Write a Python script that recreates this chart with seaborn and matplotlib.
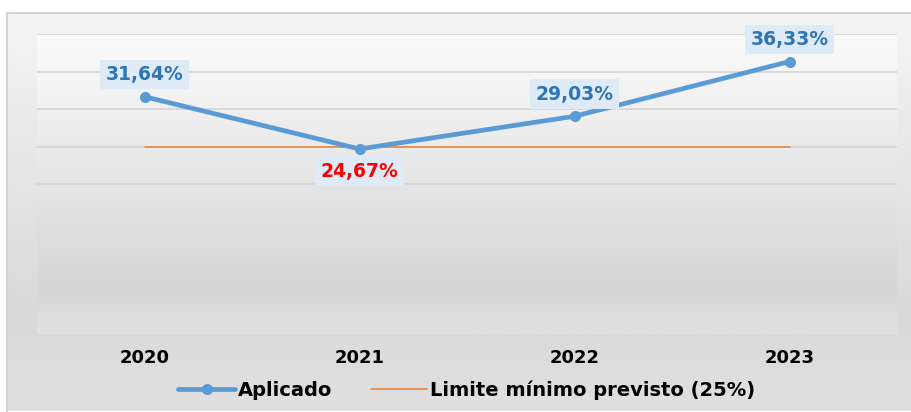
import numpy as np
import pandas as pd
import seaborn as sns
import matplotlib.pyplot as plt
from matplotlib.colors import LinearSegmentedColormap

anos = ["2020", "2021", "2022", "2023"]
aplicado = [31.64, 24.67, 29.03, 36.33]
limite = [25, 25, 25, 25]
rotulos = ["31,64%", "24,67%", "29,03%", "36,33%"]
cor_rotulo = ["#2e75b6", "#ff0000", "#2e75b6", "#2e75b6"]
grade = [20, 25, 30, 35, 40]

df = pd.DataFrame({"ano": anos, "Aplicado": aplicado, "Limite": limite})

sns.set_theme(style="white")
plt.rcParams["font.family"] = ["DejaVu Sans"]

W, H = 911, 412
fig = plt.figure(figsize=(W / 100, H / 100), dpi=100)
fig.patch.set_facecolor("white")

# moldura externa com degrade
frame = fig.add_axes([7 / W, 1 / H, 1, 398 / H])
cm_frame = LinearSegmentedColormap.from_list(
    "f", [(0, "#e0e0e0"), (0.25, "#d9d9d9"), (1, "#f5f5f5")])
frame.imshow(np.linspace(0, 1, 256).reshape(-1, 1), cmap=cm_frame, origin="lower",
             aspect="auto", extent=[0, 1, 0, 1])
frame.set_xticks([])
frame.set_yticks([])
for s in ["right", "bottom"]:
    frame.spines[s].set_visible(False)
for s in ["top", "left"]:
    frame.spines[s].set_color("#d4d4d4")
    frame.spines[s].set_linewidth(1.5)

pos = [37 / W, (412 - 334) / H, (897 - 37) / W, 300 / H]

# fundo da area de plotagem
bg = fig.add_axes(pos)
cm_plot = LinearSegmentedColormap.from_list(
    "p", [(0, "#e1e1e1"), (0.15, "#d6d6d6"), (1, "#fbfbfb")])
bg.imshow(np.linspace(0, 1, 256).reshape(-1, 1), cmap=cm_plot, origin="lower",
          aspect="auto", extent=[0, 1, 0, 1])
bg.axis("off")

ax = fig.add_axes(pos)
ax.set_facecolor("none")

for g in grade:
    ax.axhline(g, color="#d6d6d6", lw=1.3, zorder=1)

sns.lineplot(data=df, x="ano", y="Limite", ax=ax, color="#ed7d31", lw=1.1,
             label="Limite mínimo previsto (25%)", zorder=2)
sns.lineplot(data=df, x="ano", y="Aplicado", ax=ax, color="#5b9bd5", lw=3.4,
             marker="o", markersize=8, markeredgewidth=0, label="Aplicado", zorder=3)

for i, (v, t, c) in enumerate(zip(aplicado, rotulos, cor_rotulo)):
    dy = -16 if i == 1 else 16
    ax.annotate(t, (i, v), xytext=(0, dy), textcoords="offset points",
                ha="center", va="center", fontsize=13.5, fontweight="bold", color=c,
                bbox=dict(boxstyle="square,pad=0.28", fc="#deebf7", ec="none"),
                zorder=5)

ax.set_xlim(-0.5, 3.5)
ax.set_ylim(0, 40)
ax.set_yticks([])
ax.set_xlabel("")
ax.set_ylabel("")
ax.tick_params(axis="x", length=0, pad=11, labelsize=13, labelcolor="black")
for lab in ax.get_xticklabels():
    lab.set_fontweight("bold")
for s in ax.spines.values():
    s.set_visible(False)

h, l = ax.get_legend_handles_labels()
leg = ax.legend(h[::-1], l[::-1], loc="center", bbox_to_anchor=(0.5, -0.187), ncol=2,
                frameon=False, handlelength=2.9, handletextpad=0.15, columnspacing=2.0,
                prop={"weight": "bold", "size": 14})
for t in leg.get_texts():
    t.set_color("black")

fig.savefig("out.png", dpi=100)
